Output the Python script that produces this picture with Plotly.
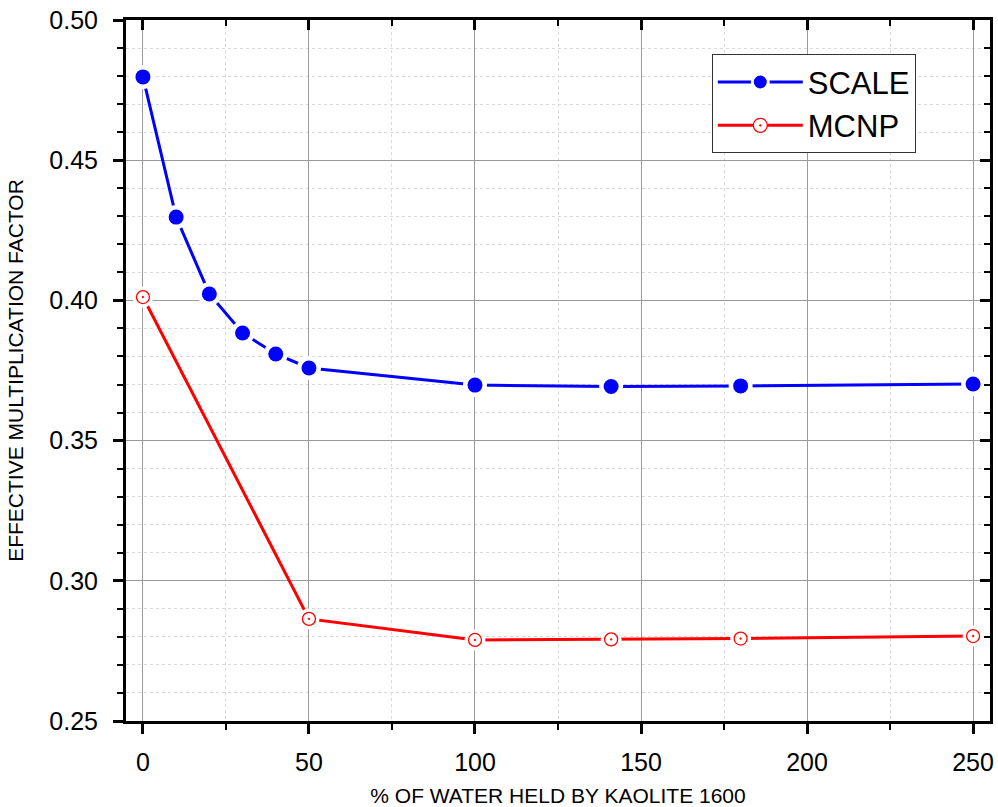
import plotly.graph_objects as go

water_pct = [0, 10, 20, 30, 40, 50, 100, 141, 180, 250]
scale_keff = [0.4797, 0.4297, 0.4023, 0.3884, 0.3809, 0.3759, 0.3698, 0.3693, 0.3695, 0.3702]
mcnp_pct = [0, 50, 100, 141, 180, 250]
mcnp_keff = [0.4012, 0.2864, 0.2789, 0.2791, 0.2794, 0.2803]

x_ticks = [0, 50, 100, 150, 200, 250]
y_ticks = [0.25, 0.30, 0.35, 0.40, 0.45, 0.50]
y_tick_text = ["0.25", "0.30", "0.35", "0.40", "0.45", "0.50"]

FONT = "Arial, Liberation Sans, sans-serif"
BLUE = "#0000ff"
RED = "#ff0000"

fig = go.Figure()

# SCALE: line, white halo, markers
fig.add_trace(go.Scatter(x=water_pct, y=scale_keff, mode="lines",
                         line=dict(color=BLUE, width=3), showlegend=False, hoverinfo="skip"))
fig.add_trace(go.Scatter(x=water_pct, y=scale_keff, mode="markers",
                         marker=dict(color="white", size=24), showlegend=False, hoverinfo="skip"))
fig.add_trace(go.Scatter(x=water_pct, y=scale_keff, mode="markers",
                         marker=dict(color=BLUE, size=15, symbol="circle"), showlegend=False))

# MCNP: line, white halo, markers
fig.add_trace(go.Scatter(x=mcnp_pct, y=mcnp_keff, mode="lines",
                         line=dict(color=RED, width=3), showlegend=False, hoverinfo="skip"))
fig.add_trace(go.Scatter(x=mcnp_pct, y=mcnp_keff, mode="markers",
                         marker=dict(color="white", size=21), showlegend=False, hoverinfo="skip"))
fig.add_trace(go.Scatter(x=mcnp_pct, y=mcnp_keff, mode="markers",
                         marker=dict(color="white", size=13, symbol="circle-dot",
                                     line=dict(color=RED, width=1.3)), showlegend=False))

# legend entries
fig.add_trace(go.Scatter(x=[None], y=[None], mode="lines+markers", name="SCALE",
                         line=dict(color=BLUE, width=3),
                         marker=dict(color=BLUE, size=20, line=dict(color="white", width=3))))
fig.add_trace(go.Scatter(x=[None], y=[None], mode="lines+markers", name="MCNP",
                         line=dict(color=RED, width=3),
                         marker=dict(color="white", size=14, symbol="circle-dot",
                                     line=dict(color=RED, width=1.3))))

# invisible trace to anchor the mirror axes
fig.add_trace(go.Scatter(x=[None], y=[None], xaxis="x2", yaxis="y2", showlegend=False,
                         hoverinfo="skip"))

xr = [-5.1, 255.1]
yr = [0.25, 0.50]

fig.update_layout(
    width=998, height=807,
    margin=dict(l=126, r=8, t=20, b=86, autoexpand=False),
    paper_bgcolor="white", plot_bgcolor="white",
    font=dict(family=FONT, color="black"),
    showlegend=True,
    legend=dict(x=0.678, y=0.951, xanchor="left", yanchor="top",
                bgcolor="white", bordercolor="#333333", borderwidth=1,
                font=dict(size=31, family=FONT, color="black"),
                itemwidth=85, tracegroupgap=0),
    xaxis=dict(range=xr, tickvals=x_ticks, ticks="outside", ticklen=10, tickwidth=2.5,
               tickcolor="black", showline=True, linewidth=3, linecolor="black", mirror=True,
               showgrid=True, gridcolor="#9a9a9a", gridwidth=1, zeroline=False,
               tickfont=dict(size=25, family=FONT), ticklabelstandoff=7, automargin=False,
               title=dict(text="% OF WATER HELD BY KAOLITE 1600", font=dict(size=21, family=FONT),
                          standoff=18),
               minor=dict(dtick=25, tick0=0, ticks="outside", ticklen=6, tickwidth=2,
                          tickcolor="black", showgrid=True, gridcolor="#dadada",
                          griddash="dot", gridwidth=1)),
    yaxis=dict(range=yr, tickvals=y_ticks, ticktext=y_tick_text, ticks="outside", ticklen=10,
               tickwidth=2.5, tickcolor="black", showline=True, linewidth=3, linecolor="black",
               mirror=True, showgrid=True, gridcolor="#9a9a9a", gridwidth=1, zeroline=False,
               tickfont=dict(size=25, family=FONT), ticklabelstandoff=10, automargin=False,
               title=dict(text="EFFECTIVE MULTIPLICATION FACTOR", font=dict(size=21, family=FONT),
                          standoff=20),
               minor=dict(dtick=0.01, tick0=0.25, ticks="outside", ticklen=6, tickwidth=2,
                          tickcolor="black", showgrid=True, gridcolor="#dadada",
                          griddash="dot", gridwidth=1)),
    xaxis2=dict(range=xr, overlaying="x", side="top", tickvals=x_ticks, ticks="inside",
                ticklen=10, tickwidth=2.5, tickcolor="black", showticklabels=False,
                showgrid=False, zeroline=False, showline=False, automargin=False,
                minor=dict(dtick=25, tick0=0, ticks="inside", ticklen=6, tickwidth=2,
                           tickcolor="black", showgrid=False)),
    yaxis2=dict(range=yr, overlaying="y", side="right", tickvals=y_ticks, ticks="inside",
                ticklen=10, tickwidth=2.5, tickcolor="black", showticklabels=False,
                showgrid=False, zeroline=False, showline=False, automargin=False,
                minor=dict(dtick=0.01, tick0=0.25, ticks="inside", ticklen=6, tickwidth=2,
                           tickcolor="black", showgrid=False)),
)

fig.write_html("out.html", config={"displayModeBar": False},
               post_script="document.body.style.margin='0';document.body.style.overflow='hidden';")
